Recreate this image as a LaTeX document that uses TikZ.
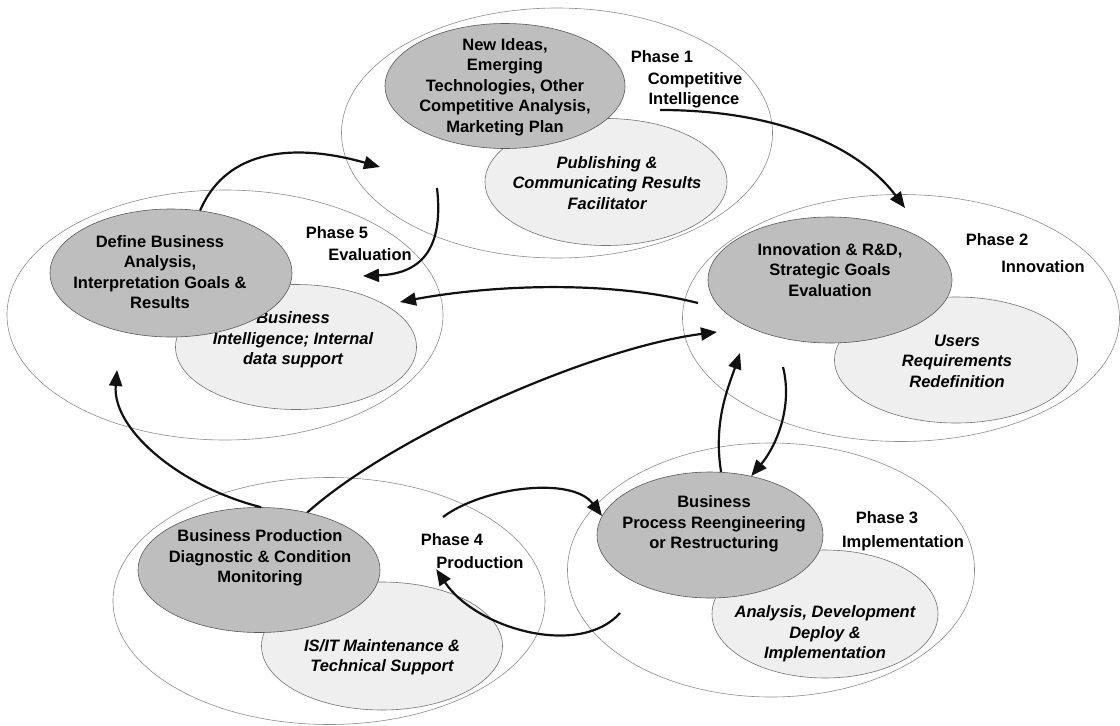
\documentclass[tikz,border=0pt]{standalone}
\usepackage{fontspec}
\setmainfont{Liberation Sans}
\usepackage{tikz}
\usetikzlibrary{arrows.meta,shapes.geometric}
\definecolor{CoreGray}{HTML}{BEBEBE}
\definecolor{RoleGray}{HTML}{EFEFEF}
\definecolor{RimGray}{HTML}{8C8C8C}
\definecolor{InkDark}{HTML}{111111}

\begin{document}
\begin{tikzpicture}[x=1pt, y=-1pt,
    phase/.style={ellipse, draw=RimGray, line width=0.6pt, inner sep=0pt},
    core/.style={ellipse, draw=black!65, line width=0.6pt, fill=CoreGray,
                 inner sep=0pt},
    role/.style={core, draw=black!55, fill=RoleGray},
    coretext/.style={align=center, inner sep=0pt,
                     font=\bfseries\fontsize{16.5}{20.5}\selectfont},
    roletext/.style={coretext, font=\bfseries\itshape\fontsize{16.5}{20.5}\selectfont},
    tag/.style={coretext},
    arrow/.style={-{Triangle[length=16pt,width=13pt]}, line width=2.2pt,
                  draw=InkDark}
]
\useasboundingbox (0,0) rectangle (1120,726);

% outer phase rings
\node[phase, minimum width=431pt, minimum height=250pt] (ph1) at (557,133) {};
\node[phase, minimum width=437pt, minimum height=247pt] (ph2) at (901,318) {};
\node[phase, minimum width=407pt, minimum height=254pt] (ph3) at (771,570) {};
\node[phase, minimum width=432pt, minimum height=247pt] (ph4) at (329,601) {};
\node[phase, minimum width=436pt, minimum height=250pt] (ph5) at (225,315) {};

% role ellipses (light)
\node[role, minimum width=242pt, minimum height=127pt] (ph1role) at (606,182) {};
\node[role, minimum width=243pt, minimum height=126pt] (ph2role) at (956,360) {};
\node[role, minimum width=226pt, minimum height=128pt] (ph3role) at (825,614) {};
\node[role, minimum width=241pt, minimum height=128pt] (ph4role) at (382,646) {};
\node[role, minimum width=241pt, minimum height=125pt] (ph5role) at (296,347) {};

\node[roletext] (ph1roletext) at (607,183) {Publishing \&\\Communicating Results\\Facilitator};
\node[roletext] (ph2roletext) at (957,361) {Users\\Requirements\\Redefinition};
\node[roletext] (ph3roletext) at (825,634) {Analysis, Development\\Deploy \&\\Implementation};
\node[roletext] (ph4roletext) at (382,657) {IS/IT Maintenance \&\\Technical Support};
\node[roletext] (ph5roletext) at (293,340) {Business\\Intelligence; Internal\\data support};

% core ellipses (dark)
\node[core, minimum width=240pt, minimum height=125pt] (ph1core) at (505,86) {};
\node[core, minimum width=244pt, minimum height=126pt] (ph2core) at (830,280) {};
\node[core, minimum width=226pt, minimum height=126pt] (ph3core) at (710,535) {};
\node[core, minimum width=242pt, minimum height=125pt] (ph4core) at (259,570) {};
\node[core, minimum width=242pt, minimum height=128pt] (ph5core) at (171,273) {};

\node[coretext] (ph1coretext) at (505,87) {New Ideas,\\Emerging\\Technologies, Other\\Competitive Analysis,\\Marketing Plan};
\node[coretext] (ph2coretext) at (830,270) {Innovation \& R\&D,\\Strategic Goals\\Evaluation};
\node[coretext] (ph3coretext) at (714,524) {Business\\Process Reengineering\\or Restructuring};
\node[coretext] (ph4coretext) at (260,558) {Business Production\\Diagnostic \& Condition\\Monitoring};
\node[coretext] (ph5coretext) at (160,272) {Define Business\\Analysis,\\Interpretation Goals \&\\Results};

% phase tags
\node[tag] (ph1a) at (662,57) {Phase 1};
\node[tag] (ph1b) at (695,80) {Competitive};
\node[tag] (ph1c) at (694,100) {Intelligence};
\node[tag] (ph2a) at (997,240) {Phase 2};
\node[tag] (ph2b) at (1043,267) {Innovation};
\node[tag] (ph3a) at (887,518) {Phase 3};
\node[tag] (ph3b) at (903,543) {Implementation};
\node[tag] (ph4a) at (452,540) {Phase 4};
\node[tag] (ph4b) at (480,563) {Production};
\node[tag] (ph5a) at (337,233) {Phase 5};
\node[tag] (ph5b) at (370,255) {Evaluation};

% loose arrow ends
\coordinate (a1s) at (660,110);
\coordinate (a1e) at (905,208);
\coordinate (a2e) at (380,167);
\coordinate (a3s) at (437,188);
\coordinate (a3e) at (363,276);
\coordinate (a4s) at (698,303);
\coordinate (a4e) at (400,302);
\coordinate (a5e) at (717,332);
\coordinate (a6e) at (117,370);
\coordinate (a7e) at (740,353);
\coordinate (a8s) at (783,367);
\coordinate (a9s) at (443,517);
\coordinate (a10s) at (620,613);

\draw[arrow] (a1s) .. controls +(120,0) and +(-45,-60) .. (a1e);
\draw[arrow] (ph5core.65) .. controls +(30,-70) and +(-70,-20) .. (a2e);
\draw[arrow] (a3s) .. controls +(8,70) and +(50,-2) .. (a3e);
\draw[arrow] (a4s) .. controls +(-100,-25) and +(80,-15) .. (a4e);
\draw[arrow] (ph4core.50) .. controls +(90,-80) and +(-120,15) .. (a5e);
\draw[arrow] (ph4core.88) .. controls +(-80,-20) and +(-5,60) .. (a6e);
\draw[arrow] (ph3core.80) .. controls +(-8,-50) and +(-12,35) .. (a7e);
\draw[arrow] (a8s) .. controls +(10,40) and +(25,-30) .. (ph3core.55);
\draw[arrow] (a9s) .. controls +(40,-30) and +(-30,-40) .. (ph3core.170);
\draw[arrow] (a10s) .. controls +(-40,45) and +(40,60) .. (ph4b.south west);
\end{tikzpicture}
\end{document}
